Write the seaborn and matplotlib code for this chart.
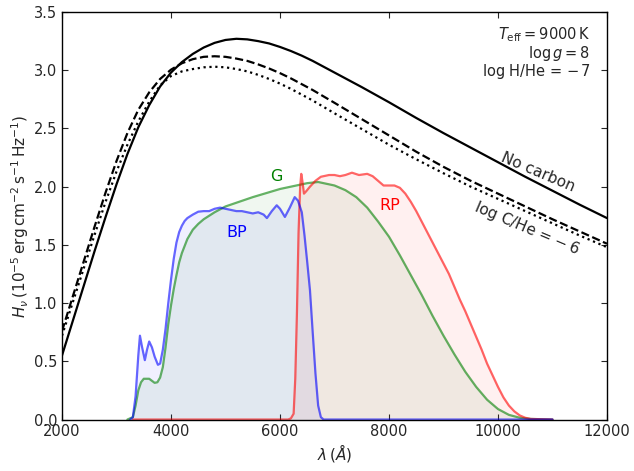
import numpy as np
import pandas as pd
import matplotlib
matplotlib.use("Agg")
import matplotlib.pyplot as plt
import seaborn as sns

# ---- model spectra (Hnu, 1e-5 erg cm-2 s-1 Hz-1) ----
wl_model = [2000, 2200, 2400, 2600, 2800, 3000, 3200, 3400, 3600, 3800, 4000, 4200,
            4400, 4600, 4800, 5000, 5200, 5400, 5600, 5800, 6000, 6200, 6400, 6600,
            6800, 7000, 7500, 8000, 8500, 9000, 9500, 10000, 10500, 11000, 11500, 12000]
h_nocarbon = [0.55, 0.85, 1.15, 1.45, 1.74, 2.02, 2.28, 2.51, 2.70, 2.86, 2.98, 3.07,
              3.14, 3.195, 3.235, 3.26, 3.27, 3.265, 3.25, 3.23, 3.20, 3.165, 3.125, 3.08,
              3.03, 2.98, 2.855, 2.725, 2.59, 2.46, 2.335, 2.21, 2.085, 1.965, 1.845, 1.73]
h_dashed = [0.76, 1.06, 1.36, 1.66, 1.95, 2.22, 2.46, 2.66, 2.81, 2.925, 3.005, 3.06,
            3.095, 3.115, 3.12, 3.115, 3.10, 3.08, 3.05, 3.015, 2.975, 2.93, 2.88, 2.83,
            2.775, 2.72, 2.58, 2.44, 2.30, 2.17, 2.05, 1.94, 1.83, 1.72, 1.615, 1.51]
h_dotted = [0.72, 1.01, 1.30, 1.59, 1.87, 2.13, 2.36, 2.56, 2.73, 2.87, 2.95, 2.99,
            3.01, 3.025, 3.03, 3.025, 3.01, 2.99, 2.96, 2.925, 2.885, 2.84, 2.79, 2.74,
            2.685, 2.63, 2.495, 2.36, 2.235, 2.115, 2.00, 1.895, 1.79, 1.685, 1.58, 1.48]

# ---- Gaia passbands (scaled) ----
wl_g = [3200, 3300, 3350, 3400, 3450, 3500, 3600, 3700, 3750, 3800, 3850, 3900, 3950,
        4000, 4050, 4100, 4150, 4200, 4300, 4400, 4500, 4600, 4800, 5000, 5500, 6000,
        6500, 6700, 7000, 7200, 7400, 7600, 7800, 8000, 8200, 8400, 8600, 8800, 9000,
        9200, 9400, 9600, 9800, 10000, 10200, 10400, 10600, 11000]
t_g = [0.0, 0.02, 0.12, 0.25, 0.32, 0.35, 0.35, 0.315, 0.32, 0.36, 0.45, 0.62, 0.82,
       0.98, 1.12, 1.24, 1.35, 1.43, 1.55, 1.63, 1.68, 1.72, 1.78, 1.83, 1.91, 1.98,
       2.03, 2.04, 2.01, 1.97, 1.91, 1.82, 1.70, 1.57, 1.41, 1.24, 1.07, 0.89, 0.72,
       0.56, 0.41, 0.28, 0.17, 0.09, 0.04, 0.015, 0.005, 0.0]

wl_bp = [3250, 3300, 3350, 3400, 3430, 3470, 3520, 3560, 3600, 3650, 3700, 3760, 3800,
         3850, 3900, 3950, 4000, 4050, 4100, 4150, 4200, 4250, 4300, 4400, 4500, 4600,
         4700, 4800, 4900, 5000, 5100, 5200, 5300, 5400, 5500, 5600, 5700, 5760, 5850,
         5940, 6000, 6090, 6180, 6270, 6330, 6400, 6450, 6500, 6550, 6600, 6650, 6700,
         6750, 6800, 8000, 11000]
t_bp = [0.0, 0.02, 0.20, 0.55, 0.72, 0.62, 0.51, 0.60, 0.67, 0.62, 0.54, 0.47, 0.48,
        0.60, 0.78, 1.00, 1.20, 1.38, 1.52, 1.61, 1.665, 1.705, 1.73, 1.76, 1.785, 1.79,
        1.79, 1.81, 1.82, 1.81, 1.80, 1.79, 1.79, 1.78, 1.77, 1.78, 1.76, 1.73, 1.79,
        1.84, 1.81, 1.74, 1.82, 1.91, 1.88, 1.78, 1.58, 1.35, 1.11, 0.75, 0.40, 0.12,
        0.02, 0.0, 0.0, 0.0]

wl_rp = [3300, 6150, 6200, 6250, 6280, 6310, 6340, 6370, 6390, 6410, 6440, 6480, 6550,
         6650, 6750, 6900, 7000, 7100, 7200, 7320, 7450, 7600, 7700, 7800, 7900, 8000,
         8100, 8200, 8300, 8400, 8500, 8600, 8700, 8800, 8900, 9000, 9100, 9200, 9300,
         9400, 9500, 9600, 9700, 9800, 9900, 10000, 10100, 10200, 10300, 10400, 10500,
         10600, 11000]
t_rp = [0.0, 0.0, 0.01, 0.05, 0.35, 0.90, 1.60, 2.00, 2.11, 2.05, 1.94, 1.96, 2.00,
        2.05, 2.085, 2.10, 2.10, 2.09, 2.10, 2.12, 2.10, 2.11, 2.09, 2.05, 2.01, 2.01,
        2.01, 1.99, 1.94, 1.87, 1.79, 1.70, 1.61, 1.52, 1.43, 1.34, 1.25, 1.14, 1.03,
        0.93, 0.82, 0.71, 0.60, 0.48, 0.38, 0.28, 0.19, 0.12, 0.07, 0.035, 0.015, 0.005, 0.0]

x_ticks = [2000, 4000, 6000, 8000, 10000, 12000]
y_ticks = [0.0, 0.5, 1.0, 1.5, 2.0, 2.5, 3.0, 3.5]

sns.set_style("ticks")
plt.rcParams['font.family'] = ['DejaVu Sans']
plt.rcParams['mathtext.fontset'] = 'dejavusans'

fig = plt.figure(figsize=(6.34, 4.71), dpi=100)
ax = fig.add_axes([0.0978, 0.1093, 0.8596, 0.8652])

# filters
for wl, t, c in [(wl_g, t_g, 'g'), (wl_bp, t_bp, 'b'), (wl_rp, t_rp, 'r')]:
    ax.fill_between(wl, t, 0, color=c, alpha=0.06, lw=0)
sns.lineplot(x=wl_g, y=t_g, color='g', alpha=0.6, lw=1.6, ax=ax, sort=False, estimator=None)
sns.lineplot(x=wl_rp, y=t_rp, color='r', alpha=0.6, lw=1.6, ax=ax, sort=False, estimator=None)
sns.lineplot(x=wl_bp, y=t_bp, color='b', alpha=0.6, lw=1.6, ax=ax, sort=False, estimator=None)

# spectra
sns.lineplot(x=wl_model, y=h_nocarbon, color='k', lw=1.6, ax=ax, sort=False, estimator=None)
sns.lineplot(x=wl_model, y=h_dashed, color='k', lw=1.6, ls='--', ax=ax, sort=False, estimator=None)
sns.lineplot(x=wl_model, y=h_dotted, color='k', lw=1.6, ls=':', ax=ax, sort=False, estimator=None)

ax.set_xlim(2000, 12000)
ax.set_ylim(0, 3.5)
ax.set_xticks(x_ticks)
ax.set_yticks(y_ticks)
ax.tick_params(direction='in', top=True, right=True, labelsize=10.5, length=4, width=0.8)
for s in ax.spines.values():
    s.set_color('k')
    s.set_linewidth(1.0)

ax.set_xlabel(r'$\lambda\,(\AA)$', fontsize=11, labelpad=2)
ax.set_ylabel(r'$H_\nu\,(10^{-5}\,\mathrm{erg\,cm^{-2}\,s^{-1}\,Hz^{-1}})$', fontsize=11, labelpad=2)

ax.text(5930, 2.09, 'G', color='g', fontsize=11.5, ha='center', va='center')
ax.text(5210, 1.61, 'BP', color='b', fontsize=11.5, ha='center', va='center')
ax.text(8020, 1.84, 'RP', color='r', fontsize=11.5, ha='center', va='center')
ax.text(10740, 2.12, 'No carbon', fontsize=11, rotation=-23, ha='center', va='center',
        rotation_mode='anchor')
ax.text(10530, 1.645, r'log C/He = $-\,$6', fontsize=11, rotation=-23, ha='center',
        va='center', rotation_mode='anchor')

ax.text(0.97, 0.944, r'$T_{\rm eff} = 9000\,$K', transform=ax.transAxes, ha='right', va='center', fontsize=10.5)
ax.text(0.97, 0.899, r'$\log g = 8$', transform=ax.transAxes, ha='right', va='center', fontsize=10.5)
ax.text(0.97, 0.853, r'log H/He = $-\,$7', transform=ax.transAxes, ha='right', va='center', fontsize=10.5)

fig.savefig('out.png', dpi=100)
